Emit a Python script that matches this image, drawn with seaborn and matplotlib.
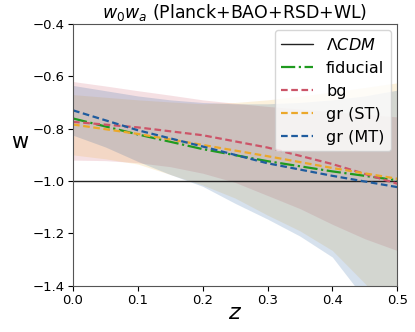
import numpy as np
import matplotlib
matplotlib.use("Agg")
import matplotlib.pyplot as plt
import seaborn as sns

# redshift grid for the mean curves
z_line = [0.0, 0.1, 0.2, 0.3, 0.4, 0.5]
w_fiducial = [-0.761, -0.822, -0.878, -0.924, -0.963, -0.997]
w_bg = [-0.774, -0.795, -0.825, -0.872, -0.935, -1.010]
w_gr_st = [-0.784, -0.820, -0.862, -0.905, -0.950, -0.991]
w_gr_mt = [-0.730, -0.806, -0.868, -0.932, -0.980, -1.023]

# redshift grid for the 1-sigma bands
z_band = [0.0, 0.05, 0.1, 0.15, 0.2, 0.25, 0.3, 0.35, 0.4, 0.45, 0.5]
bg_upper = [-0.620, -0.637, -0.655, -0.672, -0.690, -0.703, -0.715, -0.725, -0.735, -0.745, -0.755]
bg_lower = [-0.920, -0.922, -0.930, -0.945, -0.970, -1.005, -1.055, -1.105, -1.165, -1.220, -1.265]
st_upper = [-0.670, -0.680, -0.690, -0.698, -0.705, -0.700, -0.690, -0.676, -0.660, -0.643, -0.625]
st_lower = [-0.900, -0.915, -0.935, -0.975, -1.015, -1.065, -1.130, -1.190, -1.265, -1.390, -1.530]
mt_upper = [-0.635, -0.655, -0.675, -0.690, -0.700, -0.705, -0.705, -0.700, -0.690, -0.675, -0.653]
mt_lower = [-0.825, -0.870, -0.925, -0.975, -1.020, -1.085, -1.145, -1.210, -1.290, -1.450, -1.600]

colors = {'fiducial': '#1f9a1f', 'bg': '#cc5468', 'gr (ST)': '#eba82a', 'gr (MT)': '#1f5c9e'}

sns.set_style("ticks")
plt.rcParams['font.family'] = ['DejaVu Sans']
plt.rcParams['text.color'] = 'black'
plt.rcParams['axes.labelcolor'] = 'black'
plt.rcParams['xtick.color'] = 'black'
plt.rcParams['ytick.color'] = 'black'

fig = plt.figure(figsize=(4.15, 3.32), dpi=100)
ax = fig.add_axes([0.176, 0.139, 0.781, 0.789])

# bands
ax.fill_between(z_band, bg_lower, bg_upper, color=colors['bg'], alpha=0.18, lw=0)
ax.fill_between(z_band, st_lower, st_upper, color=colors['gr (ST)'], alpha=0.16, lw=0)
ax.fill_between(z_band, mt_lower, mt_upper, color=colors['gr (MT)'], alpha=0.18, lw=0)

dash = (3, 1.6)
ax.axhline(-1.0, color='#222222', lw=1.0, label=r'$\Lambda CDM$')
sns.lineplot(x=z_line, y=w_fiducial, ax=ax, color=colors['fiducial'], linestyle='-.', lw=1.6, label='fiducial')
sns.lineplot(x=z_line, y=w_bg, ax=ax, color=colors['bg'], linestyle=(0, dash), lw=1.6, label='bg')
sns.lineplot(x=z_line, y=w_gr_st, ax=ax, color=colors['gr (ST)'], linestyle=(0, dash), lw=1.6, label='gr (ST)')
sns.lineplot(x=z_line, y=w_gr_mt, ax=ax, color=colors['gr (MT)'], linestyle=(0, dash), lw=1.6, label='gr (MT)')

ax.set_xlim(0.0, 0.5)
ax.set_ylim(-1.4, -0.4)
ax.set_xticks([0.0, 0.1, 0.2, 0.3, 0.4, 0.5])
ax.set_yticks([-1.4, -1.2, -1.0, -0.8, -0.6, -0.4])
ax.tick_params(labelsize=9.5, length=3.5, width=0.8, pad=2.5)
for s in ax.spines.values():
    s.set_color('#555555')

ax.set_title(r'$w_0w_a$ (Planck+BAO+RSD+WL)', fontsize=12.5, pad=4)
ax.set_xlabel(r'$z$', fontsize=16, labelpad=-3)
ax.set_ylabel('w', fontsize=15, rotation=0, ha='center', va='center')
ax.yaxis.set_label_coords(-0.165, 0.55)

ax.legend(loc='upper right', fontsize=11.5, frameon=True, framealpha=0.8,
          handlelength=2.0, borderaxespad=0.4)

fig.savefig('out.png', dpi=100)
